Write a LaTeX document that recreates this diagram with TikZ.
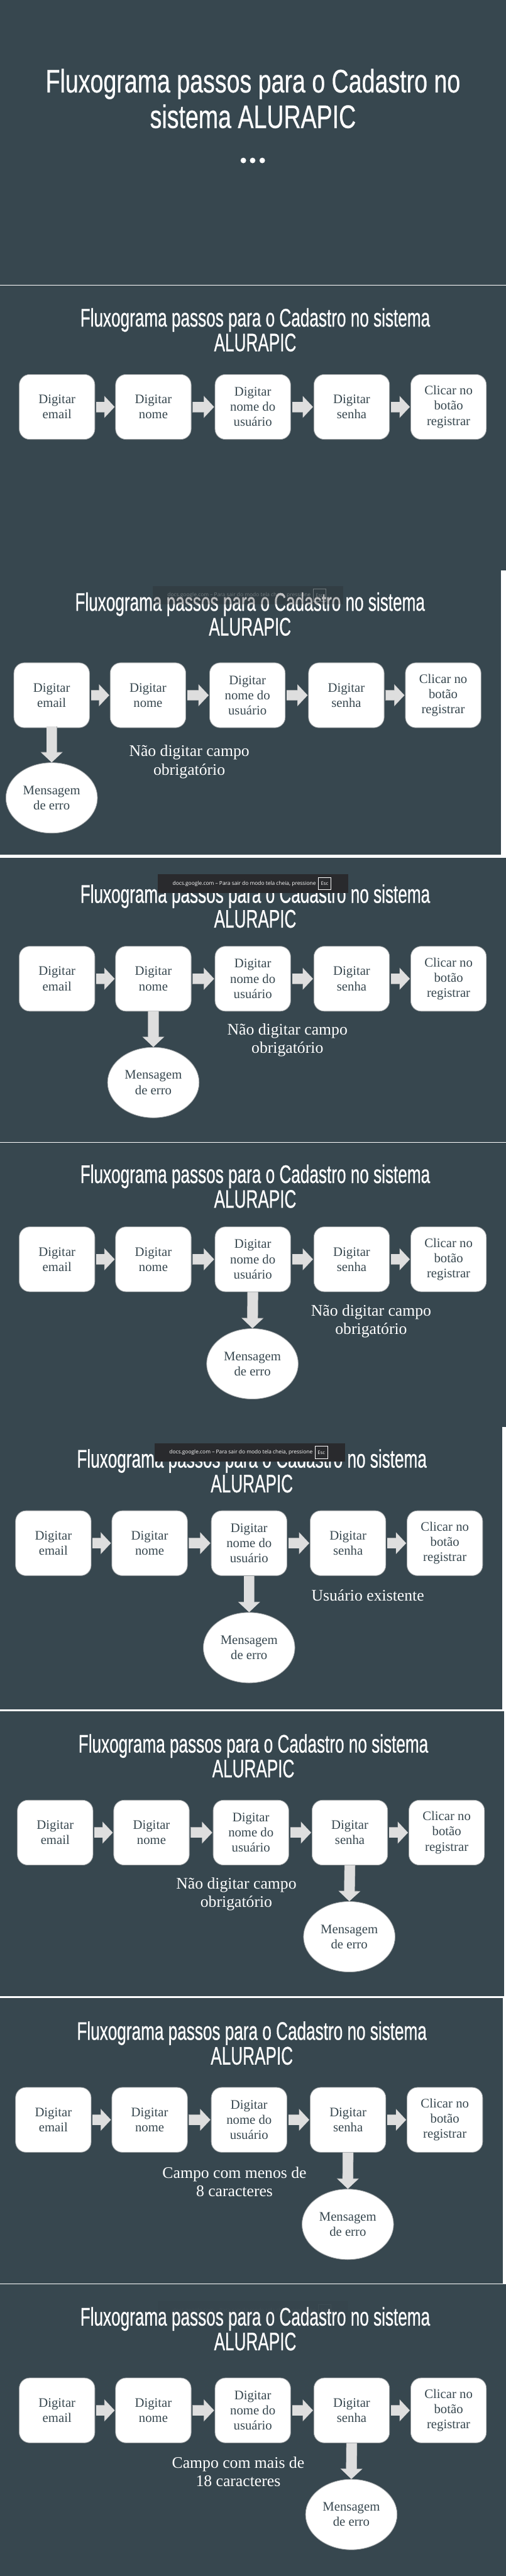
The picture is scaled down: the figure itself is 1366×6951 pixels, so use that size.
\documentclass[tikz,border=0pt]{standalone}
\usepackage{fontspec}
\usetikzlibrary{arrows.meta,shapes.geometric}
\newfontfamily\titlefont[FakeStretch=.647,FakeBold=.5]{Liberation Sans}
\newfontfamily\covertitlefont[FakeStretch=.725,FakeBold=.5]{Liberation Sans}
\newfontfamily\bodyfont{Liberation Serif}
\newfontfamily\toastfont{Open Sans}
\definecolor{slidebg}{HTML}{37474F}
\definecolor{flowedge}{HTML}{A0A4A6}
\definecolor{flowarrow}{HTML}{DEDEDE}
\definecolor{toastbg}{HTML}{292A2D}
\tikzset{
  flowbox/.style={draw=flowedge,fill=white,rounded corners=8pt,minimum width=2.04cm,minimum height=1.75cm,inner sep=0pt,align=center,text=slidebg,font=\bodyfont\fontsize{10}{11.66}\selectfont},
  errbox/.style={draw=flowedge,fill=white,ellipse,minimum width=2.47cm,minimum height=1.9cm,inner sep=0pt,align=center,text=slidebg,font=\bodyfont\fontsize{10}{11.66}\selectfont},
  errlabel/.style={text=white,align=center,inner sep=0pt,font=\bodyfont\fontsize{12.4}{14.2}\selectfont},
  slidetitle/.style={text=white,align=center,inner sep=0pt,font=\titlefont\fontsize{19.5}{19}\selectfont},
  stepflow/.style={draw=flowarrow,line width=7.7pt,-{Triangle[width=15.6pt,length=7.6pt]},shorten <=1pt,shorten >=.6pt,
    preaction={draw=flowedge,line width=8.2pt,-{Triangle[width=16.6pt,length=8pt]},shorten <=.9pt,shorten >=.4pt}},
  errflow/.style={draw=flowarrow,line width=7.9pt,-{Triangle[width=15.6pt,length=7.6pt]},
    preaction={draw=flowedge,line width=8.4pt,-{Triangle[width=16.6pt,length=8pt]}}},
  toastkey/.style={draw=white,line width=.3pt,minimum width=.33cm,minimum height=.33cm,inner sep=0pt,text=white,font=\toastfont\fontsize{3.7}{4}\selectfont},
  toasttext/.style={text=white,inner sep=0pt,font=\toastfont\fontsize{4.05}{4.5}\selectfont}
}
\newcommand{\flowrow}[3]{
  \node[flowbox] (#1a) at ({154+#2},#3) {Digitar\\email};
  \node[flowbox] (#1b) at ({414+#2},#3) {Digitar\\nome};
  \node[flowbox] (#1c) at ({682.5+#2},#3) {Digitar\\nome do\\usuário};
  \node[flowbox] (#1d) at ({949.5+#2},#3) {Digitar\\senha};
  \node[flowbox] (#1e) at ({1211+#2},#3) {Clicar no\\botão\\registrar};
  \draw[stepflow] (#1a) -- (#1b);
  \draw[stepflow] (#1b) -- (#1c);
  \draw[stepflow] (#1c) -- (#1d);
  \draw[stepflow] (#1d) -- (#1e);
}
\newcommand{\fstoast}[4]{
  \node[fill=toastbg,fill opacity=#4,minimum width=5.14cm,minimum height=.5cm,inner sep=0pt] (#1q) at (#2,#3) {};
  \node[toasttext,opacity=#4] (#1r) at ({#2-23.5},#3) {docs.google.com – Para sair do modo tela cheia, pressione};
  \node[toastkey,opacity=#4] (#1s) at ({#2+193.5},#3) {Esc};
}
\begin{document}
\begin{tikzpicture}[x=.01cm,y=-.01cm]
\useasboundingbox (0,0) rectangle (1366,6951);
\fill[slidebg] (0,0) rectangle (1366,6951);
% white seams between the slides
\fill[white] (0,768) rectangle (1366,771);
\fill[white] (1352,1540) rectangle (1366,2314);
\fill[white] (0,2306) rectangle (1366,2314);
\fill[white] (0,3081) rectangle (1366,3083);
\fill[white] (1356,3850) rectangle (1366,4618);
\fill[white] (0,4613) rectangle (1366,4618);
\fill[white] (1361,4618) rectangle (1366,5392);
\fill[white] (0,5387) rectangle (1366,5392);
\fill[white] (1357,5392) rectangle (1366,6164);
\fill[white] (0,6162) rectangle (1366,6164);
% slide 1
\node[slidetitle,font=\covertitlefont\fontsize{25}{27.3}\selectfont] (t1) at (683,266) {Fluxograma passos para o Cadastro no\\sistema ALURAPIC};
\fill[white] (657,433) circle (7.5);
\fill[white] (682,433) circle (7.5);
\fill[white] (708,433) circle (7.5);
% slide 2
\node[slidetitle] (t2) at (689,890) {Fluxograma passos para o Cadastro no sistema\\ALURAPIC};
\flowrow{p}{0}{1098}
% slide 3
\node[slidetitle] (t3) at (675,1657) {Fluxograma passos para o Cadastro no sistema\\ALURAPIC};
\fstoast{c}{669}{1606}{.3}
\flowrow{c}{-14.5}{1876}
\node[errbox] (cm) at (139.5,2153) {Mensagem\\de erro};
\draw[errflow] ([yshift=1pt]ca.south) -- (cm.north);
\node[errlabel] (cl) at (511,2056) {Não digitar campo\\obrigatório};
% slide 4
\node[slidetitle] (t4) at (689,2445) {Fluxograma passos para o Cadastro no sistema\\ALURAPIC};
\fstoast{d}{683}{2384}{1}
\flowrow{d}{0}{2641}
\node[errbox] (dm) at (414,2921) {Mensagem\\de erro};
\draw[errflow] (db.south) -- (dm.north);
\node[errlabel] (dl) at (776,2807) {Não digitar campo\\obrigatório};
% slide 5
\node[slidetitle] (t5) at (689,3201) {Fluxograma passos para o Cadastro no sistema\\ALURAPIC};
\flowrow{e}{0}{3398}
\node[errbox] (em) at (681.5,3680) {Mensagem\\de erro};
\draw[errflow] (ec.south) -- (em.north);
\node[errlabel] (el) at (1002,3565) {Não digitar campo\\obrigatório};
% slide 6
\node[slidetitle] (t6) at (680,3969) {Fluxograma passos para o Cadastro no sistema\\ALURAPIC};
\fstoast{f}{674}{3919}{1}
\flowrow{f}{-10}{4164}
\node[errbox] (fm) at (672.5,4446) {Mensagem\\de erro};
\draw[errflow] (fc.south) -- (fm.north);
\node[errlabel] (fl) at (993,4304) {Usuário existente};
% slide 7
\node[slidetitle] (t7) at (684,4738) {Fluxograma passos para o Cadastro no sistema\\ALURAPIC};
\flowrow{g}{-5}{4945}
\node[errbox] (gm) at (943,5226) {Mensagem\\de erro};
\draw[errflow] (gd.south) -- (gm.north);
\node[errlabel] (gl) at (638,5111) {Não digitar campo\\obrigatório};
% slide 8
\node[slidetitle] (t8) at (680,5513) {Fluxograma passos para o Cadastro no sistema\\ALURAPIC};
\flowrow{h}{-10}{5720}
\node[errbox] (hm) at (939,6002) {Mensagem\\de erro};
\draw[errflow] (hd.south) -- (hm.north);
\node[errlabel] (hl) at (633,5887) {Campo com menos de\\8 caracteres};
% slide 9
\node[slidetitle] (t9) at (689,6284) {Fluxograma passos para o Cadastro no sistema\\ALURAPIC};
\fstoast{i}{683}{6235}{.04}
\flowrow{i}{0}{6504}
\node[errbox] (im) at (948.5,6785) {Mensagem\\de erro};
\draw[errflow] (id.south) -- (im.north);
\node[errlabel] (il) at (643,6670) {Campo com mais de\\18 caracteres};
\end{tikzpicture}
\end{document}
